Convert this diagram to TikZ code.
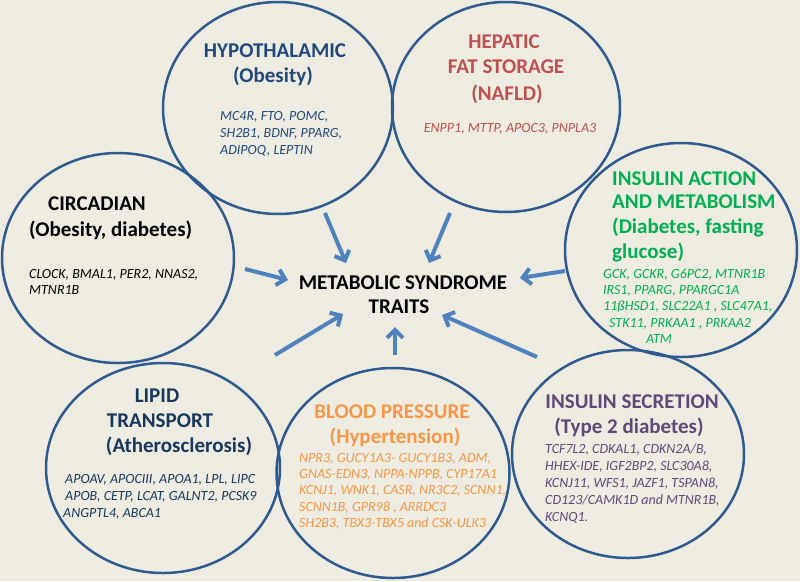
\documentclass[tikz,border=0pt]{standalone}
\usepackage{fontspec}
\setmainfont{Carlito}
\usetikzlibrary{arrows.meta,shapes.geometric}
\definecolor{bg}{HTML}{EEECE1}
\definecolor{ellc}{HTML}{2F5A8F}
\definecolor{arrc}{HTML}{4F81BD}
\definecolor{hypc}{HTML}{1F497D}
\definecolor{hepc}{HTML}{C0504D}
\definecolor{insac}{HTML}{00B050}
\definecolor{lipc}{HTML}{17375E}
\definecolor{bpc}{HTML}{F79646}
\definecolor{insc}{HTML}{5F497A}
\begin{document}
\begin{tikzpicture}[x=1pt,y=-1pt,
 ell/.style={ellipse, draw=ellc, line width=2.5pt, inner sep=0pt, outer sep=0pt},
 arr/.style={draw=arrc, line width=4pt, -{Straight Barb[length=8pt,width=16pt]}},
 ttl/.style={inner sep=0pt, anchor=base, font=\bfseries\fontsize{21}{25}\selectfont},
 ttlw/.style={ttl, anchor=base west},
 bigttl/.style={inner sep=0pt, anchor=base west, font=\bfseries\fontsize{21}{25}\selectfont},
 gene/.style={inner sep=0pt, anchor=base west, font=\itshape\fontsize{14}{17}\selectfont},
 genec/.style={gene, anchor=base},
 ]
\fill[bg] (0,0) rectangle (800,581);
\useasboundingbox (0,0) rectangle (800,581);

% ellipses
\node[ell, minimum width=230pt, minimum height=212pt] (hyp) at (278,108) {};
\node[ell, minimum width=228pt, minimum height=210pt] (hep) at (506,107) {};
\node[ell, minimum width=232pt, minimum height=210pt] (circ) at (118,258) {};
\node[ell, minimum width=232pt, minimum height=214pt] (insa) at (681,250) {};
\node[ell, minimum width=234pt, minimum height=210pt] (lip) at (163,468) {};
\node[ell, minimum width=233pt, minimum height=210pt] (bp) at (393,473) {};
\node[ell, minimum width=232pt, minimum height=208pt] (inss) at (628,454) {};

% hypothalamic
\node[ttl, text=hypc] (hypT1) at (275,57) {HYPOTHALAMIC};
\node[ttl, text=hypc] (hypT2) at (273,82) {(Obesity)};
\node[gene, text=hypc] (hypG1) at (220,120) {MC4R, FTO, POMC,};
\node[gene, text=hypc] (hypG2) at (220,137) {SH2B1, BDNF, PPARG,};
\node[gene, text=hypc] (hypG3) at (220,154) {ADIPOQ, LEPTIN};

% hepatic
\node[ttl, text=hepc] (hepT1) at (504,48) {HEPATIC};
\node[ttl, text=hepc] (hepT2) at (506,73) {FAT STORAGE};
\node[ttl, text=hepc] (hepT3) at (507,100) {(NAFLD)};
\node[genec, text=hepc] (hepG1) at (510,132) {ENPP1, MTTP, APOC3, PNPLA3};

% circadian
\node[ttl] (circT1) at (97,210) {CIRCADIAN};
\node[ttlw] (circT2) at (29,236) {(Obesity, diabetes)};
\node[gene] (circG1) at (29,278) {CLOCK, BMAL1, PER2, NNAS2,};
\node[gene] (circG2) at (29,294) {MTNR1B};

% insulin action
\node[bigttl, text=insac] (insaT1) at (612,185) {INSULIN ACTION};
\node[bigttl, text=insac] (insaT2) at (612,208) {AND METABOLISM};
\node[bigttl, text=insac] (insaT3) at (612,233) {(Diabetes, fasting};
\node[bigttl, text=insac] (insaT4) at (612,258) {glucose)};
\node[gene, text=insac] (insaG1) at (603,278) {GCK, GCKR, G6PC2, MTNR1B};
\node[gene, text=insac] (insaG2) at (603,294) {IRS1, PPARG, PPARGC1A};
\node[gene, text=insac] (insaG3) at (603,310) {11ßHSD1, SLC22A1 , SLC47A1,};
\node[gene, text=insac] (insaG4) at (609,327) {STK11, PRKAA1 , PRKAA2};
\node[gene, text=insac] (insaG5) at (646,343) {ATM};

% lipid
\node[ttl, text=lipc] (lipT1) at (157,402) {LIPID};
\node[ttl, text=lipc] (lipT2) at (160,427) {TRANSPORT};
\node[ttl, text=lipc] (lipT3) at (179,452) {(Atherosclerosis)};
\node[gene, text=lipc] (lipG1) at (65,483) {APOAV, APOCIII, APOA1, LPL, LIPC};
\node[gene, text=lipc] (lipG2) at (65,500) {APOB, CETP, LCAT, GALNT2, PCSK9};
\node[gene, text=lipc] (lipG3) at (63,517) {ANGPTL4, ABCA1};

% blood pressure
\node[ttl, text=bpc] (bpT1) at (392,418) {BLOOD PRESSURE};
\node[ttl, text=bpc] (bpT2) at (395,443) {(Hypertension)};
\node[gene, text=bpc] (bpG1) at (299,462) {NPR3, GUCY1A3- GUCY1B3, ADM,};
\node[gene, text=bpc] (bpG2) at (299,478) {GNAS-EDN3, NPPA-NPPB, CYP17A1};
\node[gene, text=bpc] (bpG3) at (299,494) {KCNJ1, WNK1, CASR, NR3C2, SCNN1,};
\node[gene, text=bpc] (bpG4) at (299,511) {SCNN1B, GPR98 , ARRDC3};
\node[gene, text=bpc] (bpG5) at (299,527) {SH2B3, TBX3-TBX5 and CSK-ULK3};

% insulin secretion
\node[ttl, text=insc] (insT1) at (632,408) {INSULIN SECRETION};
\node[ttl, text=insc] (insT2) at (629,433) {(Type 2 diabetes)};
\node[gene, text=insc] (insG1) at (545,453) {TCF7L2, CDKAL1, CDKN2A/B,};
\node[gene, text=insc] (insG2) at (545,470) {HHEX-IDE, IGF2BP2, SLC30A8,};
\node[gene, text=insc] (insG3) at (545,487) {KCNJ11, WFS1, JAZF1, TSPAN8,};
\node[gene, text=insc] (insG4) at (545,504) {CD123/CAMK1D and MTNR1B,};
\node[gene, text=insc] (insG5) at (545,521) {KCNQ1.};

% centre
\node[inner sep=0pt, anchor=base, font=\bfseries\fontsize{21}{25}\selectfont] (ms1) at (403,289) {METABOLIC SYNDROME};
\node[inner sep=0pt, anchor=base, font=\bfseries\fontsize{21}{25}\selectfont] (ms2) at (399,313) {TRAITS};

% arrow end points
\coordinate (aHypS) at (325,213); \coordinate (aHypE) at (346,263);
\coordinate (aHepS) at (450,213); \coordinate (aHepE) at (429,263);
\coordinate (aCircS) at (245,269); \coordinate (aCircE) at (288,280);
\coordinate (aInsaS) at (565,271); \coordinate (aInsaE) at (520,278);
\coordinate (aLipS) at (275,355); \coordinate (aLipE) at (343,314);
\coordinate (aBpS) at (395,355); \coordinate (aBpE) at (395,327);
\coordinate (aInsS) at (537,357); \coordinate (aInsE) at (442,315);
\draw[arr] (aHypS) -- (aHypE);
\draw[arr] (aHepS) -- (aHepE);
\draw[arr] (aCircS) -- (aCircE);
\draw[arr] (aInsaS) -- (aInsaE);
\draw[arr] (aLipS) -- (aLipE);
\draw[arr] (aBpS) -- (aBpE);
\draw[arr] (aInsS) -- (aInsE);
\end{tikzpicture}
\end{document}
